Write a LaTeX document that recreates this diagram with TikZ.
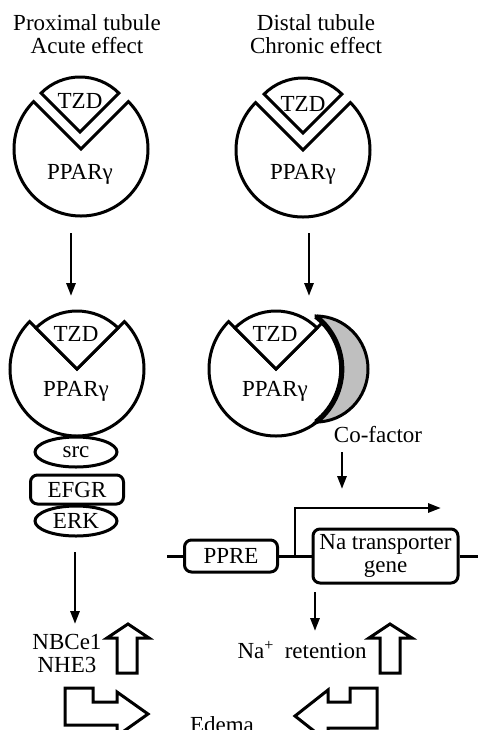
\documentclass[tikz,border=0pt]{standalone}
\usepackage{fontspec}
\setmainfont{Liberation Serif}
\usetikzlibrary{shapes.geometric,arrows.meta}
\begin{document}
\begin{tikzpicture}[x=0.5pt,y=-0.5pt]
    \tikzstyle{every node}=[font=\fontsize{11.5}{11.5}\selectfont,inner sep=0pt]
    \tikzstyle{outl}=[line width=1.5pt,line join=miter]
    \tikzstyle{blob}=[draw,ellipse,line width=1.5pt,minimum width=41pt,minimum height=15pt]
    \tikzstyle{box}=[draw,rectangle,rounded corners=3.5pt,line width=1.5pt]
    \tikzstyle{arr}=[line width=1.4pt,-{Triangle[length=6.5pt,width=4.5pt]}]
    \useasboundingbox (0,0) rectangle (478,730);
    \clip (0,0) rectangle (478,730);
    % titles
    \node[align=center] (tiA) at (87,34.5) {Proximal tubule\\Acute effect};
    \node[align=center] (tiB) at (316,34.5) {Distal tubule\\Chronic effect};
    % receptor with TZD apart
    \draw[outl,fill=white] (81,149) -- ++(-45:67) arc[start angle=-45,end angle=225,radius=67] -- cycle;
    \draw[outl,fill=white] (80,132) -- ++(-135:55) arc[start angle=-135,end angle=-45,radius=55] -- cycle;
    \draw[outl,fill=white] (303,150) -- ++(-45:67) arc[start angle=-45,end angle=225,radius=67] -- cycle;
    \draw[outl,fill=white] (303,133) -- ++(-135:55) arc[start angle=-135,end angle=-45,radius=55] -- cycle;
    \node (tzdA) at (80,101) {TZD};
    \node (ppA) at (80,174) {PPARγ};
    \node (tzdB) at (303,104) {TZD};
    \node (ppB) at (303,174) {PPARγ};
    % receptor with TZD bound
    \draw[outl,fill=white] (77,369) -- ++(-45:67) arc[start angle=-45,end angle=225,radius=67] -- cycle;
    \draw[outl,fill=white] (77,369) -- ++(-135:58) arc[start angle=-135,end angle=-45,radius=58] -- cycle;
    \draw[outl,fill=white] (276,369) -- ++(-45:67) arc[start angle=-45,end angle=225,radius=67] -- cycle;
    \draw[outl,fill=white] (276,369) -- ++(-135:58) arc[start angle=-135,end angle=-45,radius=58] -- cycle;
    \draw[outl,fill=black!25] (316,316) arc[start angle=-90,end angle=90,x radius=52,y radius=53]
      arc[start angle=52,end angle=-52,radius=67] -- cycle;
    \draw[line width=2.6pt] (316,422) arc[start angle=52,end angle=-52,radius=67];
    \node (tzdC) at (76,334) {TZD};
    \node (ppC) at (76,391) {PPARγ};
    \node (tzdD) at (275,334) {TZD};
    \node (ppD) at (275,391) {PPARγ};
    \node (cof) at (378,435) {Co-factor};
    % acute chain
    \node[blob] (src) at (76,452) {src};
    \node[box,minimum width=46.5pt,minimum height=14.5pt] (efgr) at (77,489.5) {EFGR};
    \node[blob] (erk) at (76,521) {ERK};
    \node[align=center] (nbc) at (67,653.5) {NBCe1\\NHE3};
    % gene
    \coordinate (gl) at (167,556);
    \coordinate (gr) at (478,556);
    \node[box,minimum width=46.5pt,minimum height=16pt] (ppre) at (231,556) {PPRE};
    \node[box,minimum width=72.5pt,minimum height=27pt,align=center] (gene) at (385.5,556) {Na transporter\\gene};
    \draw[outl] (gl) -- (ppre) -- (gene) -- (gr);
    \coordinate (tss) at (295,556);
    \coordinate (tssend) at (441,508);
    \draw[arr] (tss) |- (tssend);
    \node (naret) at (302,650) {Na\textsuperscript{+}\hspace{0.45em}retention};
    \node (edema) at (222,725) {Edema};
    % thin arrows
    \coordinate (dA1) at (71,233); \coordinate (dA2) at (71,296);
    \coordinate (dB1) at (309,233); \coordinate (dB2) at (309,296);
    \coordinate (dC1) at (75,552); \coordinate (dC2) at (75,624);
    \coordinate (dD1) at (342,452); \coordinate (dD2) at (342,489);
    \coordinate (dE1) at (315,592); \coordinate (dE2) at (315,631);
    \draw[arr] (dA1) -- (dA2);
    \draw[arr] (dB1) -- (dB2);
    \draw[arr] (dC1) -- (dC2);
    \draw[arr] (dD1) -- (dD2);
    \draw[arr] (dE1) -- (dE2);
    % hollow arrows
    \draw[outl] (117,673) -- (117,638) -- (107,638) -- (128,624) -- (149,638) -- (137,638) -- (137,673) -- cycle;
    \draw[outl] (380,673) -- (380,638) -- (369,638) -- (390,624) -- (412,638) -- (400,638) -- (400,673) -- cycle;
    \draw[outl] (65,688) -- (93,688) -- (93,702) -- (117,702) -- (117,692) -- (148,714) -- (117,736) -- (117,725) -- (65,725) -- cycle;
    \draw[outl] (377,688) -- (350,688) -- (350,702) -- (328,702) -- (328,690) -- (295,716) -- (328,742) -- (328,728) -- (377,728) -- cycle;
\end{tikzpicture}
\end{document}
